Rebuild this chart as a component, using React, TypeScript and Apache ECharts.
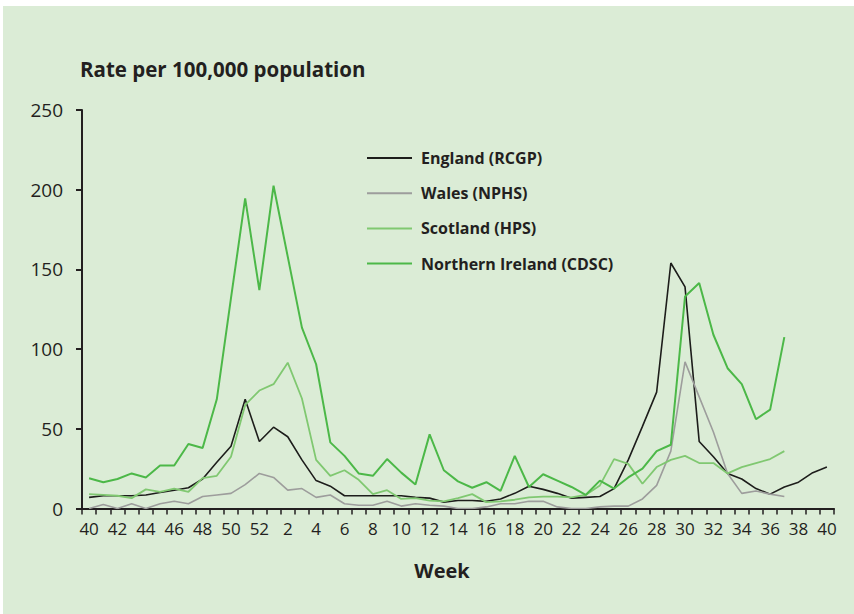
import React, { useEffect, useRef } from "react";
import * as echarts from "echarts";

const weeks: string[] = [
  "40", "41", "42", "43", "44", "45", "46", "47", "48", "49", "50", "51", "52",
  "1", "2", "3", "4", "5", "6", "7", "8", "9", "10", "11", "12", "13", "14", "15",
  "16", "17", "18", "19", "20", "21", "22", "23", "24", "25", "26", "27", "28", "29",
  "30", "31", "32", "33", "34", "35", "36", "37", "38", "39", "40",
];

const england: number[] = [
  7, 8, 8, 8, 8.5, 10, 11.5, 13, 18.5, 29,
  39, 68.5, 42, 51, 45, 30.5, 17.5, 14, 8, 8,
  8, 8, 8, 7, 6.5, 4, 5, 5, 4.5, 6,
  9.5, 14, 12, 9.5, 6.5, 7, 7.5, 12.5, 30.5, 51.5,
  73, 154, 139, 42, 32.5, 22, 18.5, 12.5, 9, 13.5,
  16.5, 22.5, 26,
];

const wales: number[] = [
  0, 2.5, 0, 3, 0, 3, 4.5, 3, 7.5, 8.5,
  9.5, 15, 22, 19.5, 11.5, 12.5, 7, 8.5, 3, 2,
  2, 4.5, 1.5, 3, 2, 1.5, 0, 0, 1, 3,
  3, 4.5, 4.5, 1, 0, 0, 1, 1.5, 1.5, 6,
  14.5, 36, 92, 70, 48, 22, 9.5, 11, 9, 7.5,
];

const scotland: number[] = [
  9, 8.5, 8, 6.5, 12, 10.5, 12.5, 10.5, 19, 20.5,
  32.5, 65, 74, 78, 91.5, 69, 30.5, 20.5, 24, 18,
  9, 11.5, 6, 6.5, 5, 4.5, 6.5, 9, 4, 4.5,
  5.5, 7, 7.5, 7.5, 7, 8.5, 14.5, 31, 28, 15.5,
  26, 30.5, 33, 28.5, 28.5, 22, 26, 28.5, 31, 36,
];

const northernIreland: number[] = [
  19, 16.5, 18.5, 22, 19.5, 27, 27, 40.5, 38, 68.5,
  132, 194.5, 137, 202.5, 158, 113.5, 90.5, 41.5, 33, 22,
  20.5, 31, 22.5, 15, 46.5, 24, 17, 13, 16.5, 11,
  33, 13.5, 21.5, 17.5, 13.5, 8.5, 17.5, 12.5, 19.5, 25,
  36, 40, 133, 141.5, 109, 88, 78, 56, 62, 107.5,
];

const seriesNames: string[] = [
  "England (RCGP)",
  "Wales (NPHS)",
  "Scotland (HPS)",
  "Northern Ireland (CDSC)",
];
const seriesColors: string[] = ["#1d1d1b", "#9d9d9c", "#80c871", "#4cb848"];
const seriesWidths: number[] = [1.6, 1.6, 1.8, 2];

const FONT = "'Open Sans', 'Noto Sans', sans-serif";
const NARROW = "'Liberation Sans Narrow', 'Open Sans', sans-serif";

export default function App() {
  const ref = useRef<HTMLDivElement>(null);

  useEffect(() => {
    if (!ref.current) return;
    const chart = echarts.init(ref.current, undefined, { renderer: "svg" });
    const datasets = [england, wales, scotland, northernIreland];
    chart.setOption({
      animation: false,
      backgroundColor: "transparent",
      graphic: [
        {
          type: "rect",
          z: -10,
          silent: true,
          shape: { x: 3, y: 6, width: 851, height: 608 },
          style: { fill: "#dbecd6" },
        },
      ],
      grid: { left: 82, right: 20, top: 110, bottom: 105.5, containLabel: false },
      legend: {
        orient: "vertical",
        left: 367,
        top: 150,
        padding: 0,
        icon: "rect",
        itemWidth: 45,
        itemHeight: 2,
        itemGap: 19.2,
        data: seriesNames,
        textStyle: {
          fontFamily: FONT,
          fontSize: 16,
          fontWeight: "bold",
          color: "#231f20",
          lineHeight: 16,
          padding: [0, 0, 0, 4],
        },
      },
      xAxis: {
        type: "category",
        data: weeks,
        boundaryGap: true,
        name: "Week",
        nameLocation: "middle",
        nameGap: 52,
        nameTextStyle: {
          fontFamily: FONT,
          fontSize: 20,
          fontWeight: "bold",
          color: "#231f20",
          padding: [0, 32, 0, 0],
        },
        axisLine: { lineStyle: { color: "#231f20", width: 2 } },
        axisTick: {
          show: true,
          interval: 0,
          length: 6,
          lineStyle: { color: "#231f20", width: 1.5 },
        },
        axisLabel: {
          interval: 1,
          margin: 11,
          fontFamily: NARROW,
          fontSize: 17,
          color: "#231f20",
        },
        splitLine: { show: false },
      },
      yAxis: {
        type: "value",
        min: 0,
        max: 250,
        interval: 50,
        name: "Rate per 100,000 population",
        nameLocation: "end",
        nameGap: 31,
        nameTextStyle: {
          fontFamily: FONT,
          fontSize: 20.5,
          fontWeight: "bold",
          color: "#231f20",
          align: "left",
          padding: [0, 0, 0, -2],
        },
        axisLine: { show: true, lineStyle: { color: "#231f20", width: 2 } },
        axisTick: {
          show: true,
          length: 6,
          lineStyle: { color: "#231f20", width: 2 },
        },
        axisLabel: {
          margin: 19,
          fontFamily: FONT,
          fontSize: 19,
          color: "#231f20",
        },
        splitLine: { show: false },
      },
      series: datasets.map((d, i) => ({
        name: seriesNames[i],
        type: "line",
        data: d,
        symbol: "none",
        showSymbol: false,
        color: seriesColors[i],
        lineStyle: { color: seriesColors[i], width: seriesWidths[i] },
        itemStyle: { color: seriesColors[i] },
        emphasis: { disabled: true },
      })),
    });
    return () => chart.dispose();
  }, []);

  return (
    <div
      style={{
        position: "fixed",
        left: 0,
        top: 0,
        width: 854,
        height: 614,
        background: "#ffffff",
      }}
    >
      <div ref={ref} style={{ width: 854, height: 614 }} />
    </div>
  );
}
